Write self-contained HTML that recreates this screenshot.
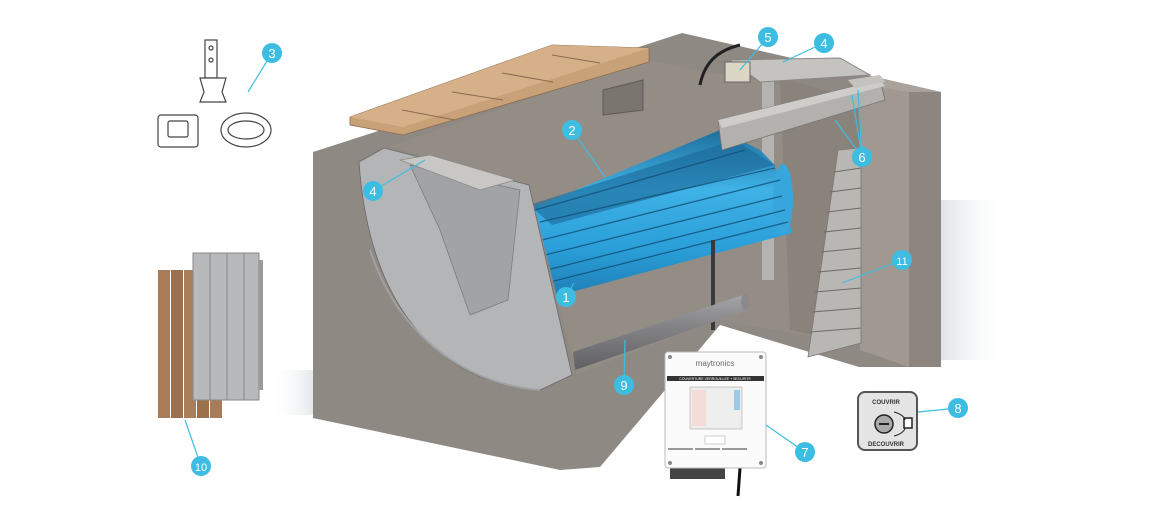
<!DOCTYPE html>
<html><head><meta charset="utf-8"><style>
html,body{margin:0;padding:0;background:#fff;}
svg{display:block;font-family:"Liberation Sans",sans-serif;}
</style></head><body>
<svg width="1158" height="524" viewBox="0 0 1158 524" xmlns="http://www.w3.org/2000/svg">
<defs>
<linearGradient id="blue" x1="0" y1="0" x2="0" y2="1">
<stop offset="0" stop-color="#1e6f9e"/><stop offset="0.35" stop-color="#3fb2e6"/><stop offset="0.7" stop-color="#2a9fd8"/><stop offset="1" stop-color="#1f7bb3"/></linearGradient>
<linearGradient id="pipe" x1="0" y1="0" x2="0" y2="1"><stop offset="0" stop-color="#a5a5a7"/><stop offset="0.4" stop-color="#858587"/><stop offset="1" stop-color="#606062"/></linearGradient>
<linearGradient id="shadowL" x1="0" y1="0" x2="1" y2="0"><stop offset="0" stop-color="#fff" stop-opacity="0"/><stop offset="1" stop-color="#c5ccd3" stop-opacity="0.5"/></linearGradient>
<linearGradient id="shadowR" x1="0" y1="0" x2="1" y2="0"><stop offset="0" stop-color="#c9d1d8" stop-opacity="0.6"/><stop offset="1" stop-color="#fff" stop-opacity="0"/></linearGradient>
</defs>
<rect x="270" y="370" width="45" height="45" fill="url(#shadowL)"/>
<rect x="941" y="200" width="70" height="160" fill="url(#shadowR)"/>
<!-- back structure -->
<polygon points="313,152 645,45 682,33 941,92 941,367 859,367 720,325 600,467 313,418" fill="#8f8983"/>
<polygon points="384,148 645,60 860,100 860,345 720,320 560,380 520,200" fill="#948d86"/>
<polygon points="700,55 860,100 860,345 790,330 780,80" fill="#8a837c"/>
<!-- right pillar -->
<polygon points="860,85 909,92 909,367 860,350" fill="#a09891"/>
<polygon points="909,92 941,92 941,367 909,367" fill="#8d8680"/>
<polygon points="860,85 880,78 941,92 909,92" fill="#aaa39c"/>
<!-- window -->
<polygon points="603,90 643,80 643,110 603,115" fill="#7b756f" stroke="#5e5954"/>
<rect x="762" y="80" width="12" height="200" fill="#b5b3b1"/>
<!-- slabs -->
<polygon points="350,117 552,45 649,48 649,62 403,135 350,125" fill="#c9a178" stroke="#8a6c50" stroke-width="0.8"/>
<polygon points="350,117 552,45 649,48 403,127" fill="#d6b089"/>
<g stroke="#8a6c50" stroke-width="1"><line x1="402" y1="110" x2="455" y2="120"/><line x1="452" y1="92" x2="503" y2="100"/><line x1="502" y1="73" x2="553" y2="82"/><line x1="552" y1="55" x2="600" y2="63"/></g>
<!-- blue roll -->
<polygon points="515,210 540,205 720,130 760,150 775,165 792,233 560,295 520,300" fill="url(#blue)"/>
<polygon points="529,205 735,140 775,165 552,225" fill="#1b6796" opacity="0.6"/>
<ellipse cx="783" cy="199" rx="10" ry="35" fill="#36a6dc"/>
<g stroke="#124f77" stroke-width="1.3" opacity="0.8">
<line x1="540" y1="222" x2="775" y2="168"/><line x1="542" y1="240" x2="780" y2="180"/>
<line x1="545" y1="255" x2="782" y2="196"/><line x1="547" y1="270" x2="785" y2="210"/>
<line x1="550" y1="282" x2="788" y2="222"/><line x1="535" y1="210" x2="745" y2="150"/></g>
<polygon points="480,290 560,295 560,320 475,320" fill="#6fc1e6" opacity="0.5"/>
<!-- beam -->
<polygon points="718,120 880,80 885,100 722,150" fill="#b3b1ae" stroke="#777" stroke-width="0.8"/>
<polygon points="718,120 880,80 885,86 722,128" fill="#cfcdca"/>
<polygon points="730,60 840,58 870,75 760,82" fill="#c5c3c0" stroke="#888"/>
<polygon points="848,80 880,75 885,82 855,88" fill="#c5c3c0"/>
<rect x="725" y="62" width="25" height="20" fill="#dcd6c4" stroke="#666"/>
<path d="M700,85 C705,60 720,50 740,45" stroke="#222" stroke-width="3" fill="none"/>
<rect x="711" y="240" width="4" height="90" fill="#3a3a3a"/>
<!-- ladder -->
<polygon points="838,150 861,148 861,343 808,357" fill="#b9b7b4" stroke="#777" stroke-width="0.8"/>
<g stroke="#6d6a67" stroke-width="1"><line x1="834" y1="172" x2="861" y2="168"/><line x1="830" y1="192" x2="861" y2="188"/><line x1="827" y1="212" x2="861" y2="208"/><line x1="824" y1="232" x2="861" y2="228"/><line x1="821" y1="252" x2="861" y2="248"/><line x1="818" y1="272" x2="861" y2="268"/><line x1="815" y1="292" x2="861" y2="288"/><line x1="812" y1="312" x2="861" y2="308"/><line x1="810" y1="332" x2="861" y2="328"/></g>
<!-- pipe -->
<polygon points="573,352 743,295 748,310 575,370" fill="url(#pipe)"/>
<ellipse cx="745" cy="302" rx="4" ry="8" fill="#8a8a8c"/>
<!-- left front wall -->
<polygon points="313,152 384,145 529,185 600,467 560,470 313,418" fill="#8f8984"/>
<path d="M359,162 L384,148 L529,185 L572,375 L540,390 C450,385 370,320 359,162 Z" fill="#b8b9bb" opacity="0.92" stroke="#666" stroke-width="0.8"/>
<path d="M410,165 L520,190 L508,300 L470,315 L440,230 Z" fill="#a2a3a6" stroke="#777" stroke-width="0.7"/>
<polygon points="400,160 430,155 515,180 480,190" fill="#c9c7c4" stroke="#888" stroke-width="0.7"/>
<path d="M540,390 C470,385 400,340 370,250" stroke="#9fa1a3" stroke-width="2" fill="none"/>
<!-- wood fence -->
<g>
<rect x="158" y="270" width="12" height="148" fill="#a97b58"/><rect x="171" y="270" width="12" height="148" fill="#9c6f4d"/>
<rect x="184" y="270" width="12" height="148" fill="#ab7e5a"/><rect x="197" y="400" width="12" height="18" fill="#9c6f4d"/>
<rect x="210" y="400" width="12" height="18" fill="#a97b58"/>
<rect x="193" y="253" width="66" height="147" fill="#b8b9bb" stroke="#888"/>
<line x1="210" y1="253" x2="210" y2="400" stroke="#888"/><line x1="227" y1="253" x2="227" y2="400" stroke="#888"/><line x1="244" y1="253" x2="244" y2="400" stroke="#888"/>
<rect x="259" y="260" width="4" height="130" fill="#9a9a9a"/>
</g>
<!-- brackets top-left -->
<g fill="#fff" stroke="#444" stroke-width="1.2">
<rect x="205" y="40" width="12" height="38"/><circle cx="211" cy="48" r="2"/><circle cx="211" cy="60" r="2"/>
<path d="M200,78 L226,78 L222,92 L226,102 L200,102 L204,92 Z"/>
<rect x="158" y="115" width="40" height="32" rx="3"/><rect x="168" y="121" width="20" height="16" rx="2"/>
<ellipse cx="246" cy="130" rx="25" ry="17"/><ellipse cx="246" cy="130" rx="18" ry="9"/>
</g>
<!-- control box -->
<g>
<rect x="670" y="465" width="55" height="14" fill="#444"/>
<path d="M740,468 L738,496" stroke="#111" stroke-width="3"/>
<rect x="665" y="352" width="101" height="116" rx="3" fill="#fbfbfb" stroke="#bbb"/>
<text x="715" y="366" font-size="8" fill="#666" text-anchor="middle">maytronics</text>
<rect x="667" y="376" width="97" height="5" fill="#333"/>
<text x="715" y="380" font-size="3.5" fill="#fff" text-anchor="middle">COUVERTURE VERROUILLEE + SECURITE</text>
<rect x="690" y="387" width="52" height="42" fill="#eee" stroke="#999" stroke-width="0.5"/>
<rect x="692" y="390" width="14" height="36" fill="#f4dcd8"/>
<rect x="734" y="390" width="6" height="20" fill="#9cc9e8"/>
<rect x="705" y="436" width="20" height="8" fill="#fff" stroke="#ccc"/>
<g fill="#999"><rect x="668" y="448" width="25" height="2"/><rect x="695" y="448" width="25" height="2"/><rect x="722" y="448" width="25" height="2"/></g>
<g fill="#888"><circle cx="670" cy="357" r="2"/><circle cx="761" cy="357" r="2"/><circle cx="670" cy="463" r="2"/><circle cx="761" cy="463" r="2"/></g>
</g>
<!-- remote -->
<rect x="858" y="392" width="59" height="58" rx="7" fill="#e4e4e4" stroke="#555" stroke-width="2"/>
<text x="886" y="404" font-size="6" font-weight="bold" fill="#333" text-anchor="middle">COUVRIR</text>
<text x="886" y="446" font-size="6" font-weight="bold" fill="#333" text-anchor="middle">DECOUVRIR</text>
<circle cx="884" cy="424" r="9" fill="#aaa" stroke="#222" stroke-width="1.5"/>
<rect x="879" y="423" width="10" height="2" fill="#222"/>
<rect x="904" y="418" width="8" height="10" fill="#fff" stroke="#222" stroke-width="1.5"/>
<path d="M894,412 C902,414 905,418 905,420 M894,436 C902,434 905,430 905,428" stroke="#222" fill="none"/>
<!-- leader lines -->
<g stroke="#3dbde2" stroke-width="1.2" fill="none">
<line x1="566" y1="297" x2="574" y2="283"/><line x1="572" y1="130" x2="605" y2="177"/>
<line x1="272" y1="53" x2="248" y2="92"/><line x1="373" y1="191" x2="425" y2="160"/>
<line x1="824" y1="43" x2="783" y2="62"/><line x1="768" y1="37" x2="740" y2="70"/>
<line x1="862" y1="157" x2="852" y2="95"/><line x1="862" y1="157" x2="835" y2="120"/><line x1="862" y1="157" x2="858" y2="90"/>
<line x1="805" y1="452" x2="766" y2="425"/><line x1="958" y1="408" x2="918" y2="412"/>
<line x1="624" y1="385" x2="625" y2="340"/><line x1="201" y1="466" x2="185" y2="420"/>
<line x1="902" y1="260" x2="842" y2="283"/>
</g>
<g fill="#3dbde2">
<circle cx="566" cy="297" r="10"/><circle cx="572" cy="130" r="10"/><circle cx="272" cy="53" r="10"/>
<circle cx="373" cy="191" r="10"/><circle cx="824" cy="43" r="10"/><circle cx="768" cy="37" r="10"/>
<circle cx="862" cy="157" r="10"/><circle cx="805" cy="452" r="10"/><circle cx="958" cy="408" r="10"/>
<circle cx="624" cy="385" r="10"/><circle cx="201" cy="466" r="10"/><circle cx="902" cy="260" r="10"/>
</g>
<g fill="#fff" font-size="13" text-anchor="middle">
<text x="566" y="302">1</text><text x="572" y="135">2</text><text x="272" y="58">3</text>
<text x="373" y="196">4</text><text x="824" y="48">4</text><text x="768" y="42">5</text>
<text x="862" y="162">6</text><text x="805" y="457">7</text><text x="958" y="413">8</text>
<text x="624" y="390">9</text><text x="201" y="471" font-size="11">10</text><text x="902" y="265" font-size="11">11</text>
</g>
</svg>
</body></html>
